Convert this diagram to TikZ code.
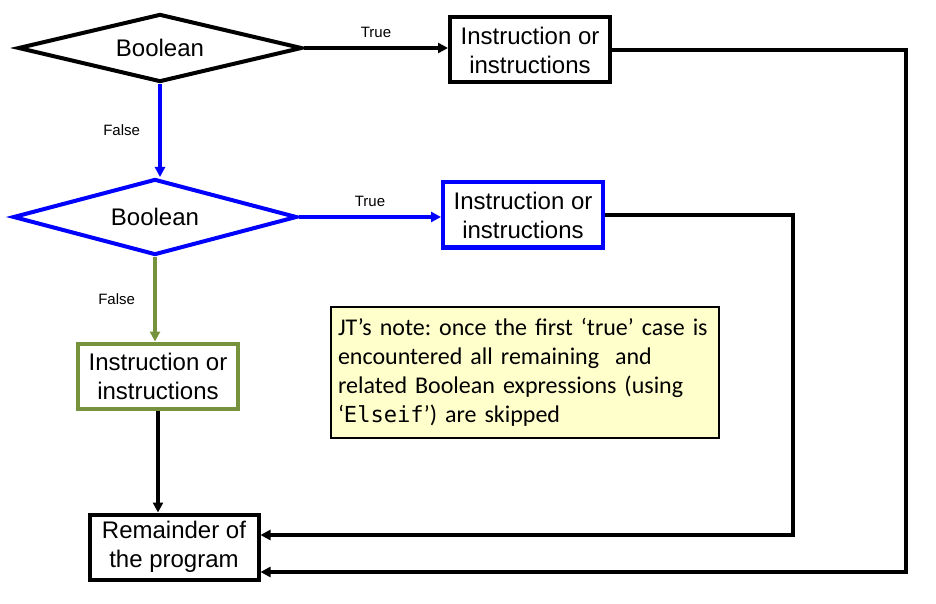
\documentclass[tikz,border=0pt]{standalone}
\usepackage{fontspec}
\setmainfont{Liberation Sans}
\newfontfamily\notefont{Carlito}
\setmonofont{DejaVu Sans Mono}[Scale=0.92]
\usetikzlibrary{arrows.meta,shapes.geometric,positioning}
\definecolor{condblue}{RGB}{0,0,255}
\definecolor{elsegreen}{RGB}{118,146,60}
\definecolor{noteyellow}{RGB}{255,255,204}
\frenchspacing

\begin{document}
\begin{tikzpicture}[x=0.5pt,y=-0.5pt,
    decision/.style={draw, line width=2pt, diamond, aspect=4, inner sep=0pt, minimum width=142pt, minimum height=34pt, font=\fontsize{12}{14.5}\selectfont},
    instr/.style={draw, line width=2pt, rectangle, inner sep=2pt, minimum width=80pt, minimum height=32.5pt, align=center, font=\fontsize{12}{14.5}\selectfont},
    note/.style={draw, line width=1pt, fill=noteyellow, inner sep=3.5pt, text width=187pt, minimum height=65.5pt, align=left, font=\notefont\fontsize{12}{14.5}\selectfont},
    flow/.style={line width=2pt, -{Triangle[length=5pt,width=5pt]}},
    branch/.style={font=\fontsize{7.5}{9}\selectfont, inner sep=1pt}]
    \useasboundingbox (0,0) rectangle (936,604);
    % Draw the two tests
    \node[decision] (bool1) at (160,48) {Boolean};
    \node[decision, draw=condblue, minimum height=38pt] (bool2) at (155,217) {Boolean};
    % Draw the instruction boxes
    \node[instr] (instr1) at (530,50) {Instruction or\\instructions};
    \node[instr, draw=condblue] (instr2) at (523,215) {Instruction or\\instructions};
    \node[instr, draw=elsegreen] (instr3) at (158,376) {Instruction or\\instructions};
    \node[instr, minimum width=84.5pt] (rest) at (174,547) {Remainder of\\the program};
    % Draw the note
    \node[note, anchor=north west] (jtnote) at (330,306) {JT’s note: once the first ‘true’ case is\\encountered all remaining\ \ and\\related Boolean expressions (using\\‘\texttt{Elseif}’) are skipped};
    % Draw the branches
    \draw[flow] (bool1.east) -- (bool1.east -| instr1.west) node[branch, midway, above=3pt] {True};
    \draw[flow, condblue] (bool1.south) -- (bool1.south |- bool2.north) node[branch, text=black, midway, left=8pt] {False};
    \draw[flow, condblue] (bool2.east) -- (bool2.east -| instr2.west) node[branch, text=black, midway, above=3pt] {True};
    \draw[flow, elsegreen] (bool2.south) -- (bool2.south |- instr3.north) node[branch, text=black, midway, left=8pt] {False};
    \draw[flow] (instr3.south) -- (instr3.south |- rest.north);
    % Draw the ways back
    \coordinate (outer) at (906,572);
    \coordinate (inner) at (793,535);
    \draw[flow] (instr1.east) -| (outer) -- (outer -| rest.east);
    \draw[flow] (instr2.east) -| (inner) -- (inner -| rest.east);
\end{tikzpicture}
\end{document}
